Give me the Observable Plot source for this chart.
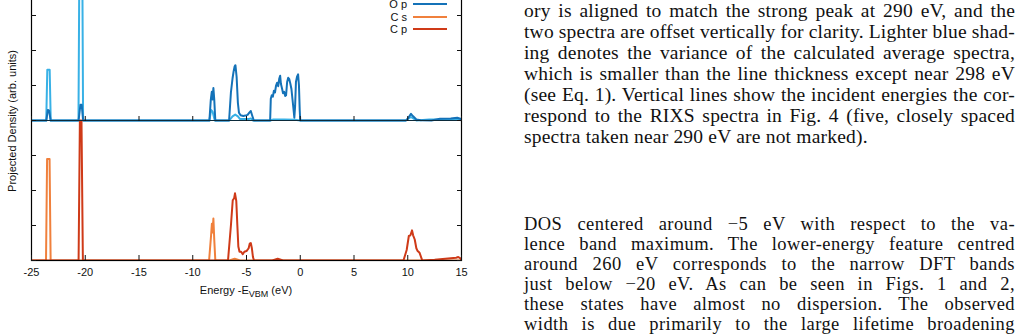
<!DOCTYPE html>
<html>
<head>
<meta charset="utf-8">
<script src="https://cdn.jsdelivr.net/npm/d3@7"></script>
<script src="https://cdn.jsdelivr.net/npm/@observablehq/plot@0.6"></script>
<style>
html,body{margin:0;padding:0;background:#fff;}
body{position:relative;width:1023px;height:334px;overflow:hidden;}
#chart{position:absolute;left:0;top:-20px;}
.lab{position:absolute;font-family:"Liberation Sans",Arial,sans-serif;font-size:11px;color:#111;white-space:nowrap;}
#ylab{left:12px;top:121px;transform:translate(-50%,-50%) rotate(-90deg);}
#xlab{left:246px;top:290px;transform:translate(-50%,-50%);}
#xlab sub{font-size:9px;vertical-align:-3px;line-height:0;}
.leg{position:absolute;left:330px;width:77px;text-align:right;font-family:"Liberation Sans",Arial,sans-serif;font-size:11px;color:#111;line-height:12px;}
.legline{position:absolute;left:413px;width:34px;height:2px;}
.tline{position:absolute;left:524px;font-family:"Liberation Serif","Times New Roman",serif;color:#111;white-space:nowrap;}
.p1{font-size:19.5px;line-height:21px;letter-spacing:0.2px;}
.p2{font-size:18.5px;line-height:20px;letter-spacing:0.45px;}
</style>
</head>
<body>
<div id="chart"></div>
<div class="lab" id="ylab">Projected Density (arb. units)</div>
<div class="lab" id="xlab">Energy -E<sub>VBM</sub> (eV)</div>
<div id="legend"></div>
<div id="text"></div>
<script>
// ---- data ----
const xTicks = [-25, -20, -15, -10, -5, 0, 5, 10, 15];
const yTicks = [0, 1, 2, 3, 4, 5, 6, 7, 8];
const panelOffset = 4; // top panel (O) is offset vertically above bottom panel (C)

const seriesNames = ["O s", "O p", "C s", "C p"];
const seriesColors = ["#38b1e6", "#1472b8", "#f0803c", "#cf3a18"];
const legendNames = ["O p", "C s", "C p"];
const legendColors = ["#1472b8", "#f0803c", "#cf3a18"];

// O s (top panel, light blue)
const osE = [-25, -23.63, -23.53, -23.31, -23.21, -20.63, -20.52, -20.3, -20.2, -8.45, -8.3, -8.15, -7.95, -6.6, -6.3, -6.05, -5.8, -5.6, -4.8, -4.6, -4.4, -2.8, -2.5, -1.5, -0.5, 0, 9.8, 10.3, 10.8, 12, 15];
const osV = [0, 0, 1.45, 1.45, 0, 0, 6, 6, 0, 0, 0.3, 0.25, 0, 0, 0.12, 0.17, 0.12, 0.04, 0.04, 0.06, 0, 0, 0.03, 0.03, 0.02, 0, 0, 0.1, 0, 0.03, 0.03];

// O p (top panel, blue)
const opE = [-25, -23.62, -23.48, -23.36, -23.22, -20.62, -20.45, -20.33, -20.2,
  -8.45, -8.32, -8.23, -8.16, -8.08, -8.0, -7.9,
  -6.62, -6.45, -6.3, -6.2, -6.1, -6.03, -5.92, -5.8, -5.7, -5.55, -5.3, -5.1, -4.9, -4.7, -4.6, -4.48, -4.32,
  -2.8, -2.74, -2.65, -2.55, -2.45, -2.35, -2.25, -2.15, -2.05, -1.95, -1.87, -1.8, -1.7, -1.6, -1.5, -1.4, -1.32, -1.22, -1.12, -1.02, -0.92, -0.82, -0.72, -0.62, -0.55, -0.48, -0.4, -0.3, -0.2, -0.12, -0.05, 0,
  9.85, 10.1, 10.3, 10.5, 10.8, 11.2, 12.2, 13, 14, 14.6, 14.9, 15];
const opV = [0, 0, 0.3, 0.28, 0, 0, 0.45, 0.45, 0,
  0, 0.6, 0.82, 0.6, 0.93, 0.6, 0,
  0, 0.8, 1.2, 1.4, 1.55, 1.58, 1.25, 0.5, 0.22, 0.15, 0.13, 0.14, 0.16, 0.24, 0.27, 0.15, 0,
  0, 0.62, 0.72, 0.68, 0.85, 0.8, 1.0, 1.08, 0.98, 1.2, 1.28, 1.05, 0.92, 0.78, 0.82, 0.7, 0.72, 1.1, 1.22, 1.18, 1.05, 0.9, 0.6, 0.3, 0.08, 0.4, 1.1, 1.25, 1.32, 1.0, 0.3, 0,
  0, 0.1, 0.19, 0.12, 0.03, 0.01, 0, 0.05, 0.06, 0.08, 0.05, 0];

// C s (bottom panel, orange)
const csE = [-25, -23.65, -23.55, -23.32, -23.22, -8.48, -8.3, -8.22, -8.16, -8.08, -8.0, -7.9, -6.6, -6.1, -5.6, 15];
const csV = [0, 0, 2.9, 2.9, 0, 0, 0.7, 1.05, 0.8, 1.2, 0.6, 0, 0, 0.05, 0, 0];

// C p (bottom panel, red)
const cpE = [-25, -20.62, -20.5, -20.35, -20.22,
  -6.72, -6.45, -6.28, -6.15, -6.07, -5.95, -5.85, -5.76, -5.65, -5.5, -5.35, -5.2, -5.0, -4.8, -4.7, -4.6, -4.5, -4.4, -4.3,
  -2.6, -2.1, -1.6,
  9.6, 9.9, 10.1, 10.25, 10.4, 10.5, 10.65, 10.8, 10.9, 11.1, 11.35, 12.5, 13.5, 14.5, 14.7, 14.9, 15];
const cpV = [0, 0, 4, 4, 0,
  0, 1.0, 1.72, 1.78, 1.92, 1.7, 1.0, 0.4, 0.25, 0.25, 0.18, 0.25, 0.27, 0.35, 0.48, 0.5, 0.35, 0.1, 0,
  0, 0.05, 0,
  0, 0.3, 0.7, 0.72, 0.86, 0.72, 0.6, 0.35, 0.28, 0.22, 0, 0.02, 0.05, 0.08, 0.1, 0.06, 0];

const para1 = [
  "ory is aligned to match the strong peak at 290 eV, and the",
  "two spectra are offset vertically for clarity. Lighter blue shad-",
  "ing denotes the variance of the calculated average spectra,",
  "which is smaller than the line thickness except near 298 eV",
  "(see Eq. 1). Vertical lines show the incident energies the cor-",
  "respond to the RIXS spectra in Fig. 4 (five, closely spaced",
  "spectra taken near 290 eV are not marked)."
];
const para2 = [
  "DOS centered around \u22125 eV with respect to the va-",
  "lence band maximum. The lower-energy feature centred",
  "around 260 eV corresponds to the narrow DFT bands",
  "just below \u221220 eV. As can be seen in Figs. 1 and 2,",
  "these states have almost no dispersion. The observed",
  "width is due primarily to the large lifetime broadening"
];

// ---- build ----
const rows = (E, V, off) => E.map((e, i) => ({e, v: V[i] + off}));
const osRows = rows(osE, osV, panelOffset);
const opRows = rows(opE, opV, panelOffset);
const csRows = rows(csE, csV, 0);
const cpRows = rows(cpE, cpV, 0);

const lineOpts = (c) => ({x: "e", y: "v", stroke: c, strokeWidth: 2, strokeLinejoin: "round", clip: true});

const chart = Plot.plot({
  width: 470,
  height: 330,
  marginLeft: 31,
  marginRight: 9,
  marginTop: 0,
  marginBottom: 50,
  x: {domain: [-25, 15]},
  y: {domain: [0, 8]},
  style: {fontFamily: "Liberation Sans, Arial, sans-serif", fontSize: "11px", color: "#111", background: "transparent"},
  marks: [
    Plot.line(osRows, lineOpts(seriesColors[0])),
    Plot.line(opRows, lineOpts(seriesColors[1])),
    Plot.line(csRows, lineOpts(seriesColors[2])),
    Plot.line(cpRows, lineOpts(seriesColors[3])),
    Plot.ruleY([panelOffset], {stroke: "#0b2a3a", strokeWidth: 1.2}),
    Plot.frame({stroke: "#000", strokeWidth: 1.2}),
    Plot.axisX({ticks: xTicks, tickSize: -5, tickPadding: 13, tickFormat: d => String(d), label: null}),
    Plot.axisX({anchor: "top", ticks: xTicks, tickSize: 5, dy: 140, tickFormat: () => "", label: null}),
    Plot.axisY({ticks: yTicks, tickSize: -5, tickFormat: () => "", label: null}),
    Plot.axisY({anchor: "right", ticks: yTicks, tickSize: -5, tickFormat: () => "", label: null})
  ]
});
document.getElementById("chart").appendChild(chart);

// legend
const legend = document.getElementById("legend");
legendNames.forEach((name, i) => {
  const cy = 4.3 + i * 12.3;
  const t = document.createElement("div");
  t.className = "leg";
  t.style.top = (cy - 6) + "px";
  t.textContent = name;
  legend.appendChild(t);
  const l = document.createElement("div");
  l.className = "legline";
  l.style.top = (cy - 1) + "px";
  l.style.background = legendColors[i];
  legend.appendChild(l);
});

// text column (each line justified to the column width)
const COLW = 491;
const text = document.getElementById("text");
function addPara(lines, cls, firstTop, step, lastJustified) {
  lines.forEach((s, i) => {
    const d = document.createElement("div");
    d.className = "tline " + cls;
    d.style.top = (firstTop + i * step) + "px";
    d.textContent = s;
    text.appendChild(d);
    const justify = i < lines.length - 1 || lastJustified;
    if (justify) {
      const w = d.getBoundingClientRect().width;
      const n = (s.match(/ /g) || []).length;
      if (n > 0) d.style.wordSpacing = ((COLW - w) / n) + "px";
    }
  });
}
addPara(para1, "p1", 0, 21, false);
addPara(para2, "p2", 214, 20, true);
</script>
</body>
</html>
